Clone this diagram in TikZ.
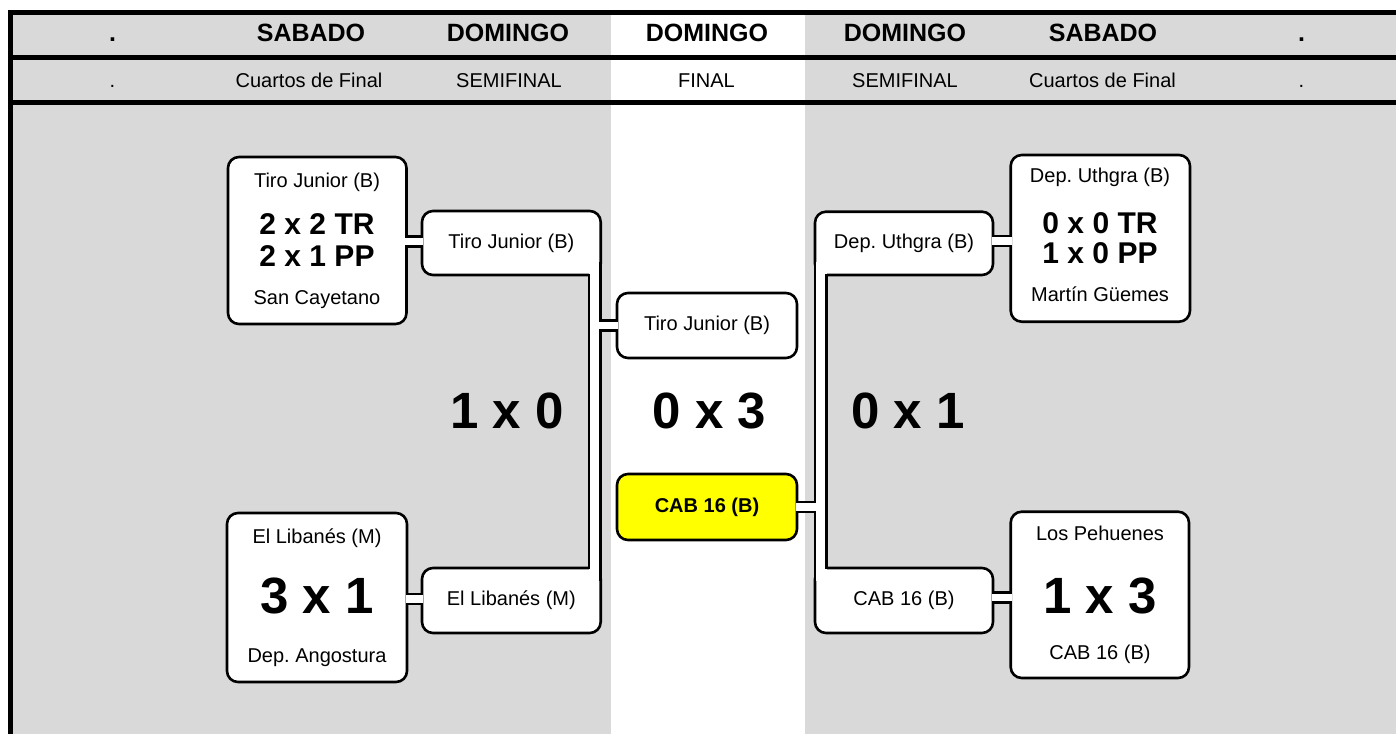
\documentclass[tikz,border=0pt]{standalone}
\usepackage{fontspec}
\setmainfont{Liberation Sans}
\usetikzlibrary{calc}
\definecolor{bggrey}{RGB}{217,217,217}
\definecolor{boxyellow}{RGB}{255,255,0}
\frenchspacing
\begin{document}
\begin{tikzpicture}[x=1pt,y=-1pt,
  box/.style={draw=black, line width=2.6pt, fill=white, rounded corners=11pt, inner sep=0pt, outer sep=0pt, font=\fontsize{20}{24}\selectfont},
  wire/.style={draw=black, line width=2.6pt, line join=miter},
  frame/.style={draw=black, line width=5pt},
  hbold/.style={font=\fontsize{25}{30}\selectfont\bfseries, anchor=base, inner sep=0pt},
  hreg/.style={font=\fontsize{20}{24}\selectfont, anchor=base, inner sep=0pt},
  txt/.style={font=\fontsize{20}{24}\selectfont, anchor=base, inner sep=0pt},
  sc/.style={font=\fontsize{30}{36}\selectfont\bfseries, anchor=base, inner sep=0pt},
  big/.style={font=\fontsize{51}{60}\selectfont\bfseries, anchor=base, inner sep=0pt},
]
\useasboundingbox (0,0) rectangle (1396,734);
\fill[white] (0,0) rectangle (1396,734);
\fill[bggrey] (11,12) rectangle (1396,734);
\fill[white] (611,12) rectangle (805,734);
\draw[frame] (8.3,12.5) -- (1396,12.5);
\draw[frame] (8.3,57.5) -- (1396,57.5);
\draw[frame] (8.3,102.5) -- (1396,102.5);
\draw[frame] (10.8,10) -- (10.8,734);

% header row 1
\node[hbold] (d1) at (112.5,41) {.};
\node[hbold] (d2) at (311,41) {SABADO};
\node[hbold] (d3) at (508,41) {DOMINGO};
\node[hbold] (d4) at (707,41) {DOMINGO};
\node[hbold] (d5) at (905,41) {DOMINGO};
\node[hbold] (d6) at (1103,41) {SABADO};
\node[hbold] (d7) at (1301.5,41) {.};
% header row 2
\node[hreg] (r1) at (112.5,87) {.};
\node[hreg] (r2) at (309,87) {Cuartos de Final};
\node[hreg] (r3) at (509,87) {SEMIFINAL};
\node[hreg] (r4) at (706.5,87) {FINAL};
\node[hreg] (r5) at (905,87) {SEMIFINAL};
\node[hreg] (r6) at (1102.5,87) {Cuartos de Final};
\node[hreg] (r7) at (1301.5,87) {.};

% boxes
\node[box, minimum width=178.5pt, minimum height=167pt] (qfTL) at (317.25,240.5) {};
\node[box, minimum width=178.7pt, minimum height=64pt] (sfTL) at (511.35,243) {Tiro Junior (B)};
\node[box, minimum width=180pt, minimum height=65pt] (finT) at (707,325.5) {Tiro Junior (B)};
\node[box, fill=boxyellow, font=\fontsize{20}{24}\selectfont\bfseries, minimum width=180pt, minimum height=66pt] (finB) at (707,507) {CAB 16 (B)};
\node[box, minimum width=178.7pt, minimum height=65pt] (sfBL) at (511.35,600.5) {El Libanés (M)};
\node[box, minimum width=180pt, minimum height=169pt] (qfBL) at (317,597.5) {};
\node[box, minimum width=178pt, minimum height=63.3pt] (sfTR) at (904,243.35) {Dep. Uthgra (B)};
\node[box, minimum width=179.3pt, minimum height=166.7pt] (qfTR) at (1100.35,238.35) {};
\node[box, minimum width=178pt, minimum height=65pt] (sfBR) at (904,600.5) {CAB 16 (B)};
\node[box, minimum width=178.3pt, minimum height=166.3pt] (qfBR) at (1099.85,594.85) {};

% quarter-final texts
\node[txt] (tl1) at (317,187) {Tiro Junior (B)};
\node[sc] (tl2) at (317,234) {2 x 2 TR};
\node[sc] (tl3) at (317,266) {2 x 1 PP};
\node[txt] (tl4) at (317,304) {San Cayetano};
\node[txt] (bl1) at (317,543) {El Libanés (M)};
\node[big] (bl2) at (317,613) {3 x 1};
\node[txt] (bl3) at (317,662) {Dep. Angostura};
\node[txt] (tr1) at (1100,182) {Dep. Uthgra (B)};
\node[sc] (tr2) at (1100,233) {0 x 0 TR};
\node[sc] (tr3) at (1100,263) {1 x 0 PP};
\node[txt] (tr4) at (1100,301) {Martín Güemes};
\node[txt] (br1) at (1100,540) {Los Pehuenes};
\node[big] (br2) at (1100,613) {1 x 3};
\node[txt] (br3) at (1100,659) {CAB 16 (B)};

% middle scores
\node[big] (s1) at (507,428) {1 x 0};
\node[big] (s2) at (709.5,428) {0 x 3};
\node[big] (s3) at (908,428) {0 x 1};

% connector mid points
\coordinate (mTL) at ($(qfTL.east)!.5!(sfTL.west)$);
\coordinate (mBL) at ($(qfBL.east)!.5!(sfBL.west)$);
\coordinate (mTR) at ($(sfTR.east)!.5!(qfTR.west)$);
\coordinate (mBR) at ($(sfBR.east)!.5!(qfBR.west)$);

% white interiors of the connectors
\fill[white] ($(qfTL.east |- mTL)+(-1.4,-3.7)$) rectangle ($(sfTL.west |- mTL)+(1.4,3.7)$);
\fill[white] ($(qfBL.east |- mBL)+(-1.4,-3.7)$) rectangle ($(sfBL.west |- mBL)+(1.4,3.7)$);
\fill[white] ($(sfTR.east |- mTR)+(-1.4,-3.7)$) rectangle ($(qfTR.west |- mTR)+(1.4,3.7)$);
\fill[white] ($(sfBR.east |- mBR)+(-1.4,-3.7)$) rectangle ($(qfBR.west |- mBR)+(1.4,3.7)$);
\fill[white] ($(sfTL.south east)+(-11.7,-13)$) rectangle ($(sfBL.north east)+(0,13)$);
\fill[white] ($(sfTL.east |- finT.west)+(-1.4,-3.7)$) rectangle ($(finT.west)+(1.4,3.7)$);
\fill[white] ($(sfTR.south west)+(0,-13)$) rectangle ($(sfBR.north west)+(11.7,13)$);
\fill[white] ($(finB.east)+(-1.3,-3.7)$) rectangle ($(sfTR.west |- finB.east)+(1.4,3.7)$);

% connector outlines: quarter-final to semi-final
\draw[wire] ($(qfTL.east |- mTL)+(0,-5)$) -- ($(sfTL.west |- mTL)+(0,-5)$);
\draw[wire] ($(qfTL.east |- mTL)+(0,5)$) -- ($(sfTL.west |- mTL)+(0,5)$);
\draw[wire] ($(qfBL.east |- mBL)+(0,-5)$) -- ($(sfBL.west |- mBL)+(0,-5)$);
\draw[wire] ($(qfBL.east |- mBL)+(0,5)$) -- ($(sfBL.west |- mBL)+(0,5)$);
\draw[wire] ($(sfTR.east |- mTR)+(0,-5)$) -- ($(qfTR.west |- mTR)+(0,-5)$);
\draw[wire] ($(sfTR.east |- mTR)+(0,5)$) -- ($(qfTR.west |- mTR)+(0,5)$);
\draw[wire] ($(sfBR.east |- mBR)+(0,-5)$) -- ($(qfBR.west |- mBR)+(0,-5)$);
\draw[wire] ($(sfBR.east |- mBR)+(0,5)$) -- ($(qfBR.west |- mBR)+(0,5)$);

% left bracket to the final
\draw[wire] ($(sfTL.south east)+(-11.7,-1.3)$) -- ($(sfBL.north east)+(-11.7,1.3)$);
\draw[wire] ($(sfTL.south east)+(0,-13)$) |- ($(finT.west)+(0,-5)$);
\draw[wire] ($(finT.west)+(0,5)$) -| ($(sfBL.north east)+(0,13)$);

% right bracket to the final
\draw[wire] ($(sfTR.south west)+(11.7,-1.3)$) -- ($(sfBR.north west)+(11.7,1.3)$);
\draw[wire] ($(sfTR.south west)+(0,-13)$) |- ($(finB.east)+(0,-5)$);
\draw[wire] ($(finB.east)+(0,5)$) -| ($(sfBR.north west)+(0,13)$);
\end{tikzpicture}
\end{document}
